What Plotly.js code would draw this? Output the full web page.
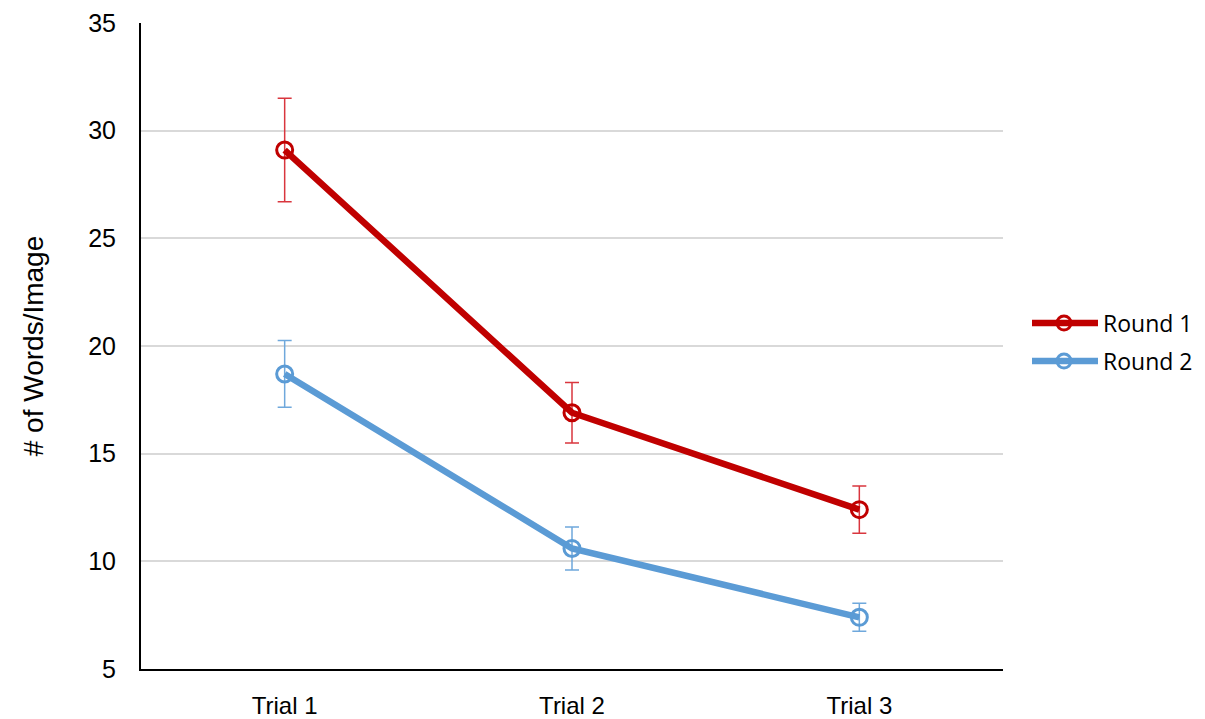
<!DOCTYPE html>
<html>
<head>
<meta charset="utf-8">
<script src="https://cdn.plot.ly/plotly-3.0.1.min.js"></script>
<style>html,body{margin:0;padding:0;background:#fff;}#chart{width:1205px;height:719px;}</style>
</head>
<body>
<div id="chart"></div>
<script>
const categories = ["Trial 1", "Trial 2", "Trial 3"];
const round1 = [29.1, 16.9, 12.4];
const round1Err = [2.4, 1.4, 1.1];
const round2 = [18.7, 10.6, 7.4];
const round2Err = [1.55, 1.0, 0.65];
const seriesNames = ["Round 1", "Round 2"];
const colors = ['#C00000', '#5B9BD5'];
const errColors = ['#D9363E', '#6FA8DC'];

function trace(name, y, err, color, errColor) {
  return {
    type: 'scatter', mode: 'lines+markers', name: name,
    x: categories, y: y, showlegend: false,
    line: {color: color, width: 6.5},
    marker: {symbol: 'circle-open', size: 16, color: color, line: {width: 3, color: color}},
    error_y: {type: 'data', array: err, visible: true, color: errColor, thickness: 1.5, width: 7}
  };
}

const data = [
  trace(seriesNames[0], round1, round1Err, colors[0], errColors[0]),
  trace(seriesNames[1], round2, round2Err, colors[1], errColors[1])
];

// custom legend (decoration), positioned in pixel space converted to paper coords
const L = 141, R = 202, T = 23, B = 50, W = 1205, H = 719;
const pw = W - L - R, ph = H - T - B;
const px = v => (v - L) / pw;
const py = v => 1 - (v - T) / ph;
const shapes = [], annotations = [];
seriesNames.forEach((n, i) => {
  const yy = 323 + i * 38;
  shapes.push({type: 'line', xref: 'paper', yref: 'paper', x0: px(1032), x1: px(1098), y0: py(yy), y1: py(yy),
    line: {color: colors[i], width: 6.5}});
  shapes.push({type: 'circle', xref: 'paper', yref: 'paper', xsizemode: 'pixel', ysizemode: 'pixel',
    xanchor: px(1064), yanchor: py(yy), x0: -7, x1: 7, y0: -7, y1: 7,
    fillcolor: 'rgba(0,0,0,0)', line: {color: colors[i], width: 3}});
  annotations.push({xref: 'paper', yref: 'paper', x: px(1101), y: py(yy), xanchor: 'left', yanchor: 'middle',
    text: n, showarrow: false, font: {size: 23, family: 'Open Sans, sans-serif', color: '#000'}});
});

const layout = {
  width: W, height: H,
  margin: {l: L, r: R, t: T, b: B},
  paper_bgcolor: '#fff', plot_bgcolor: '#fff',
  font: {family: 'Liberation Sans, Arial, sans-serif', color: '#000'},
  xaxis: {
    type: 'category', range: [-0.5, 2.5],
    showline: true, linecolor: '#000', linewidth: 2,
    showgrid: false, ticks: '', tickfont: {size: 24},
    ticklabelstandoff: 14, zeroline: false
  },
  yaxis: {
    range: [5, 35], dtick: 5, tick0: 5,
    showline: true, linecolor: '#000', linewidth: 2,
    showgrid: true, gridcolor: '#D9D9D9', gridwidth: 2,
    ticks: '', tickfont: {size: 25}, ticklabelstandoff: 18, zeroline: false,
    title: {text: '# of Words/Image', font: {size: 28}, standoff: 36}
  },
  shapes: shapes,
  annotations: annotations,
  showlegend: false
};

Plotly.newPlot('chart', data, layout, {displayModeBar: false, staticPlot: true});
</script>
</body>
</html>
